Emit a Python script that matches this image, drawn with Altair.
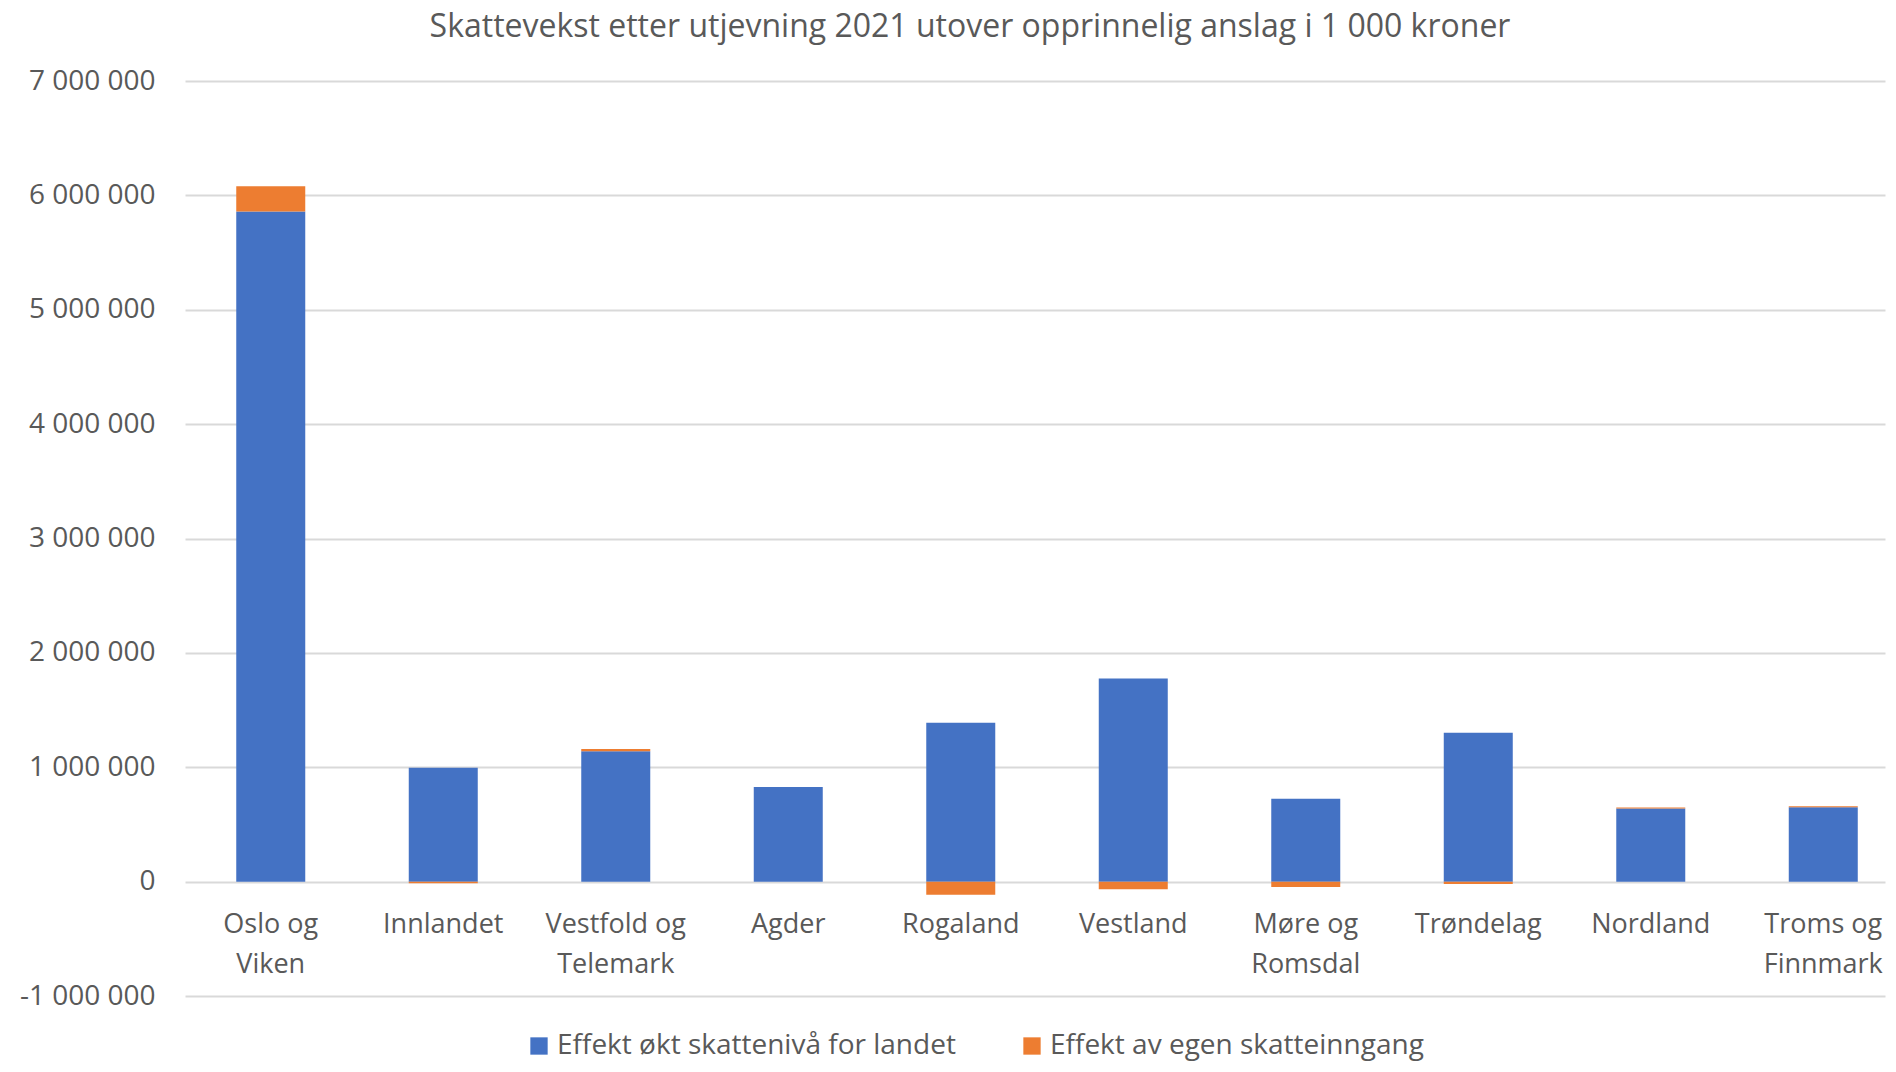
import altair as alt
import pandas as pd

regions = ["Oslo og|Viken", "Innlandet", "Vestfold og|Telemark", "Agder", "Rogaland",
           "Vestland", "Møre og|Romsdal", "Trøndelag", "Nordland", "Troms og|Finnmark"]
effekt_niva = [5860000, 995000, 1140000, 827000, 1389000, 1775000, 725000, 1301000, 640000, 650000]
effekt_egen = [220000, -15000, 20000, 0, -114000, -67000, -47000, -20000, 8000, 9000]
series = ["Effekt økt skattenivå for landet", "Effekt av egen skatteinngang"]
colors = ["#4472C4", "#ED7D31"]
y_ticks = [-1000000, 0, 1000000, 2000000, 3000000, 4000000, 5000000, 6000000, 7000000]

rows = []
for i, r in enumerate(regions):
    rows.append({"region": r, "serie": series[0], "verdi": effekt_niva[i], "rekke": 0})
    rows.append({"region": r, "serie": series[1], "verdi": effekt_egen[i], "rekke": 1})
df = pd.DataFrame(rows)

FONT = "Open Sans"
LABEL = "#595959"
FS = 27

chart = alt.Chart(df).mark_bar().encode(
    x=alt.X("region:N", sort=regions,
            scale=alt.Scale(paddingInner=0.6, paddingOuter=0.2275, align=0.653),
            axis=alt.Axis(title=None, labelAngle=0, domain=False, ticks=False,
                          labelExpr="split(datum.label, '|')", labelFontSize=FS,
                          labelLineHeight=40, labelColor=LABEL, labelFont=FONT,
                          labelPadding=29, offset=-114, grid=False, labelLimit=0)),
    y=alt.Y("verdi:Q", stack="zero",
            scale=alt.Scale(domain=[-1000000, 7000000], nice=False),
            axis=alt.Axis(title=None, values=y_ticks, domain=False, ticks=False,
                          labelExpr="replace(replace(format(datum.value, ','), regexp(',', 'g'), ' '), '\u2212', '-')",
                          labelFontSize=28, labelColor=LABEL, labelFont=FONT,
                          labelPadding=30, gridColor="#d9d9d9", gridWidth=2)),
    color=alt.Color("serie:N", scale=alt.Scale(domain=series, range=colors),
                    legend=alt.Legend(title=None, orient="none", direction="horizontal",
                                      legendX=340, legendY=951, symbolType="square",
                                      symbolSize=300, symbolStrokeWidth=0,
                                      labelFontSize=28, labelFont=FONT, labelColor=LABEL,
                                      labelOffset=4, columnPadding=62, labelLimit=0)),
    order=alt.Order("rekke:Q"),
).properties(
    width=1700,
    height=915,
    title=alt.TitleParams("Skattevekst etter utjevning 2021 utover opprinnelig anslag i 1 000 kroner",
                          fontSize=32, font=FONT, fontWeight="normal", color=LABEL,
                          anchor="middle", offset=23, dx=-65),
    autosize=alt.AutoSizeParams(type="none"),
    padding={"left": 177, "top": 73, "right": 3, "bottom": 68},
).configure_view(stroke=None)

chart.save("out.html", embed_options={"renderer": "svg", "actions": False})
